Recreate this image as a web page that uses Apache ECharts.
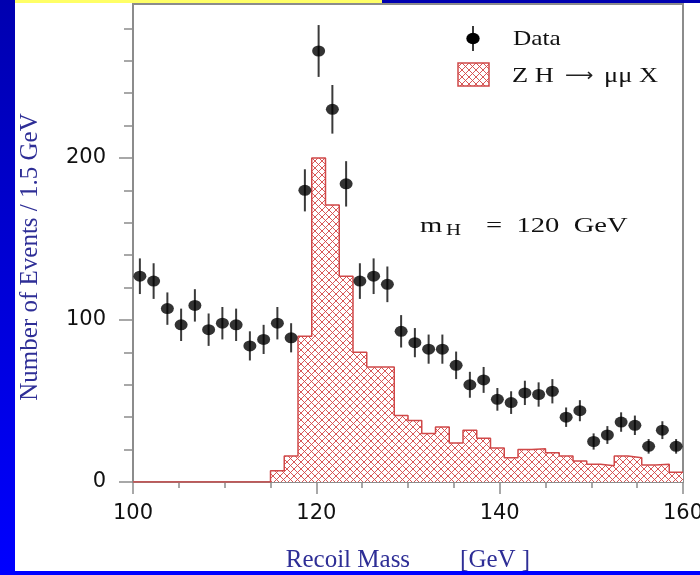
<!DOCTYPE html>
<html>
<head>
<meta charset="utf-8">
<script src="https://cdn.jsdelivr.net/npm/echarts@6/dist/echarts.min.js"></script>
<style>
  html, body { margin: 0; padding: 0; background: #ffffff; }
  #chart { width: 700px; height: 575px; }
</style>
</head>
<body>
<div id="chart"></div>
<script>
// Recoil mass histogram: 1.5 GeV bins from 100 to 160 GeV
const binEdges = [100, 101.5, 103, 104.5, 106, 107.5, 109, 110.5, 112, 113.5,
  115, 116.5, 118, 119.5, 121, 122.5, 124, 125.5, 127, 128.5,
  130, 131.5, 133, 134.5, 136, 137.5, 139, 140.5, 142, 143.5,
  145, 146.5, 148, 149.5, 151, 152.5, 154, 155.5, 157, 158.5, 160];

// Observed events per bin
const dataCounts = [127, 124, 107, 97, 109, 94, 98, 97, 84, 88,
  98, 89, 180, 266, 230, 184, 124, 127, 122, 93,
  86, 82, 82, 72, 60, 63, 51, 49, 55, 54,
  56, 40, 44, 25, 29, 37, 35, 22, 32, 22];

// Statistical uncertainty on each observed bin
const dataErrors = [11, 11, 10, 10, 10, 10, 10, 10, 9, 9,
  10, 9, 13, 16, 15, 14, 11, 11, 11, 10,
  9, 9, 9, 8.5, 8, 8, 7, 7, 7.5, 7.5,
  7.5, 6, 6.5, 5, 5.5, 6, 6, 4.5, 5.5, 4.5];

// Expected ZH -> mu mu X signal per bin
const signalCounts = [0, 0, 0, 0, 0, 0, 0, 0, 0, 0,
  7, 16, 90, 200, 171, 127, 80, 71, 71, 41,
  38, 30, 34, 24, 32, 27, 21, 15, 20, 20.5,
  18, 16, 13, 11, 10, 16, 15, 10.5, 11, 6];

const xTicks = [100, 120, 140, 160];
const yMajorTicks = [0, 100, 200];
const yMinorTicks = [20, 40, 60, 80, 120, 140, 160, 180, 220, 240, 260, 280];

// Cross-hatch fill used for the signal histogram and its legend key
function makeHatch() {
  const s = 7;
  const c = document.createElement('canvas');
  c.width = s; c.height = s;
  const ctx = c.getContext('2d');
  ctx.fillStyle = '#ffffff';
  ctx.fillRect(0, 0, s, s);
  ctx.strokeStyle = 'rgba(212,70,70,0.9)';
  ctx.lineWidth = 1;
  ctx.beginPath();
  ctx.moveTo(0, 0); ctx.lineTo(s, s);
  ctx.moveTo(s, 0); ctx.lineTo(0, s);
  ctx.stroke();
  return c;
}
const hatch = { image: makeHatch(), repeat: 'repeat' };

const binCenters = dataCounts.map((_, i) => (binEdges[i] + binEdges[i + 1]) / 2);
const dataPoints = dataCounts.map((v, i) => [binCenters[i], v, dataErrors[i]]);
const signalSteps = signalCounts.map((v, i) => [binEdges[i], v]);
signalSteps.push([binEdges[binEdges.length - 1], signalCounts[signalCounts.length - 1]]);

const chart = echarts.init(document.getElementById('chart'), null, { renderer: 'canvas' });

const serif = 'Liberation Serif';
const blueText = '#2e2e96';

chart.setOption({
  animation: false,
  backgroundColor: '#ffffff',
  grid: {
    left: 133, right: 17, top: 4, bottom: 93,
    containLabel: false, outerBoundsMode: 'none',
    show: true, borderColor: '#8c8c8c', borderWidth: 2, backgroundColor: 'transparent'
  },
  xAxis: {
    type: 'value', min: 100, max: 160, interval: 20,
    name: 'Recoil Mass        [GeV ]',
    nameLocation: 'middle', nameGap: 66,
    nameTextStyle: { fontFamily: serif, fontSize: 25, color: blueText },
    axisLine: { lineStyle: { color: '#8c8c8c', width: 2 } },
    axisTick: { show: true, inside: false, length: 12, lineStyle: { color: '#8c8c8c', width: 1.5 } },
    minorTick: { show: true, splitNumber: 4, length: 6, lineStyle: { color: '#8c8c8c', width: 1.5 } },
    splitLine: { show: false },
    axisLabel: {
      margin: 21, color: '#111', fontFamily: 'DejaVu Sans', fontSize: 21,
      customValues: xTicks
    }
  },
  yAxis: [{
    type: 'value', min: 0, max: 295,
    name: 'Number of Events / 1.5 GeV',
    nameLocation: 'middle', nameGap: 90,
    nameTextStyle: { fontFamily: serif, fontSize: 25, color: blueText, padding: [0, 28, 0, 0] },
    axisLine: { show: true, lineStyle: { color: '#8c8c8c', width: 2 } },
    axisTick: { show: true, inside: false, length: 14, lineStyle: { color: '#8c8c8c', width: 1.5 }, customValues: yMajorTicks },
    splitLine: { show: false },
    axisLabel: { margin: 27, color: '#111', fontFamily: 'DejaVu Sans', fontSize: 21, customValues: yMajorTicks }
  }, {
    type: 'value', min: 0, max: 295, position: 'left',
    axisLine: { show: false },
    axisTick: { show: true, inside: false, length: 9, lineStyle: { color: '#8c8c8c', width: 1.5 }, customValues: yMinorTicks },
    axisLabel: { show: false },
    splitLine: { show: false }
  }],
  series: [{
    name: 'ZH signal',
    type: 'line',
    step: 'end',
    data: signalSteps,
    symbol: 'none',
    lineStyle: { color: '#d04848', width: 1.5 },
    areaStyle: { color: hatch, opacity: 1 },
    z: 2
  }, {
    name: 'Data errors',
    type: 'custom',
    data: dataPoints,
    renderItem: function (params, api) {
      const x = api.value(0), y = api.value(1), e = api.value(2);
      const lo = api.coord([x, y - e]);
      const hi = api.coord([x, y + e]);
      return {
        type: 'line',
        shape: { x1: lo[0], y1: lo[1], x2: hi[0], y2: hi[1] },
        style: { stroke: '#3a3a3a', lineWidth: 2 }
      };
    },
    z: 3
  }, {
    name: 'Data',
    type: 'scatter',
    data: dataPoints.map(p => [p[0], p[1]]),
    symbol: 'path://M0,5.5A6.5,5.5 0 1,0 13,5.5A6.5,5.5 0 1,0 0,5.5Z',
    symbolSize: [13, 11],
    itemStyle: { color: '#000000' },
    z: 4
  }],
  graphic: [
    // slide decoration around the plot
    { type: 'rect', shape: { x: 0, y: 0, width: 15, height: 575 },
      style: { fill: new echarts.graphic.LinearGradient(0, 0, 0, 1, [
        { offset: 0, color: '#0000b0' }, { offset: 1, color: '#0000ff' }]) }, z: 10 },
    { type: 'rect', shape: { x: 15, y: 0, width: 367, height: 3 }, style: { fill: '#ffff66' }, z: 10 },
    { type: 'rect', shape: { x: 382, y: 0, width: 318, height: 3 }, style: { fill: '#0000b0' }, z: 10 },
    { type: 'rect', shape: { x: 0, y: 571, width: 700, height: 4 }, style: { fill: '#0000ff' }, z: 10 },

    // legend
    { type: 'line', shape: { x1: 473, y1: 26, x2: 473, y2: 51 }, style: { stroke: '#3a3a3a', lineWidth: 2 }, z: 10 },
    { type: 'circle', x: 473, y: 38.5, scaleX: 1.15, shape: { cx: 0, cy: 0, r: 5.8 }, style: { fill: '#000' }, z: 10 },
    { type: 'text', x: 513, y: 39, scaleX: 1.15,
      style: { text: 'Data', font: '22px "Liberation Serif"', fill: '#111', verticalAlign: 'middle' }, z: 10 },
    { type: 'rect', shape: { x: 458, y: 63, width: 31, height: 23 },
      style: { fill: hatch, stroke: '#d04848', lineWidth: 1.5 }, z: 10 },
    { type: 'text', x: 512, y: 76.5, scaleX: 1.2,
      style: { text: 'Z H', font: '22px "Liberation Serif"', fill: '#111', verticalAlign: 'middle' }, z: 10 },
    { type: 'text', x: 565, y: 76, scaleX: 1.1,
      style: { text: '\u27f6', font: '18px "DejaVu Sans"', fill: '#222', verticalAlign: 'middle' }, z: 10 },
    { type: 'text', x: 604, y: 76.5, scaleX: 1.2,
      style: { text: '\u03bc\u03bc X', font: '22px "Liberation Serif"', fill: '#111', verticalAlign: 'middle' }, z: 10 },

    // Higgs mass annotation
    { type: 'text', x: 420, y: 215, scaleX: 1.3,
      style: { text: 'm', font: '22px "Liberation Serif"', fill: '#111', verticalAlign: 'alphabetic' }, z: 10 },
    { type: 'text', x: 446, y: 223, scaleX: 1.3,
      style: { text: 'H', font: '16px "Liberation Serif"', fill: '#111', verticalAlign: 'alphabetic' }, z: 10 },
    { type: 'text', x: 486, y: 215, scaleX: 1.3,
      style: { text: '=  120  GeV', font: '22px "Liberation Serif"', fill: '#111', verticalAlign: 'alphabetic' }, z: 10 }
  ]
});
</script>
</body>
</html>
